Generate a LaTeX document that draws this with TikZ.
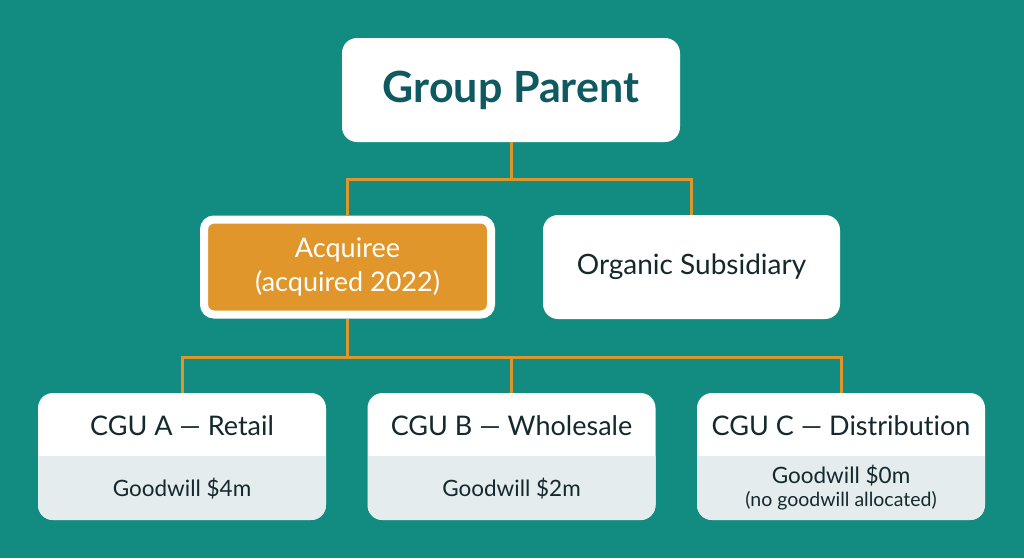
\documentclass[tikz,border=0pt]{standalone}
\usepackage{fontspec}
\setmainfont[Ligatures=NoCommon]{Lato}
\definecolor{bgteal}{HTML}{128C81}
\definecolor{linegold}{HTML}{DC962B}
\definecolor{acqorange}{HTML}{E0962A}
\definecolor{titleteal}{HTML}{0E5A60}
\definecolor{darktext}{HTML}{14292D}
\definecolor{lightgrey}{HTML}{E4ECED}
\tikzset{
  conn/.style={draw=linegold, line width=3pt},
  whitebox/.style={draw=none, fill=white, rounded corners=15pt, align=center, text=darktext, inner sep=0pt},
  acqbox/.style={draw=white, line width=8pt, fill=acqorange, rounded corners=10pt, align=center, text=white, inner sep=0pt},
  cgubox/.style={draw=none, fill=white, rounded corners=15pt, inner sep=0pt, minimum width=288pt, minimum height=127pt,
    path picture={\fill[lightgrey, sharp corners] (path picture bounding box.south west) rectangle ([yshift=64pt]path picture bounding box.south east);}},
  cgutitle/.style={text=darktext, font=\fontsize{27}{32}\selectfont, inner sep=0pt},
  gwtext/.style={text=darktext, font=\fontsize{22.5}{26}\selectfont, inner sep=0pt, align=center},
}
\begin{document}
\begin{tikzpicture}[x=1pt,y=-1pt]
\fill[bgteal] (0,0) rectangle (1024,558);
\useasboundingbox (0,0) rectangle (1024,558);
% top
\node[whitebox, minimum width=338pt, minimum height=104pt, font=\fontsize{43}{50}\selectfont\bfseries, text=titleteal] (parent) at (511,90) {Group Parent};
% level 2
\node[acqbox, minimum width=287pt, minimum height=95pt, font=\fontsize{27}{34}\selectfont] (acq) at (347.5,267) {Acquiree\\(acquired 2022)};
\node[whitebox, minimum width=297pt, minimum height=104pt, font=\fontsize{28}{32}\selectfont] (org) at (691.5,267) {Organic Subsidiary};
% level 3
\node[cgubox] (cguA) at (182,456.5) {};
\node[cgubox] (cguB) at (511.5,456.5) {};
\node[cgubox] (cguC) at (841,456.5) {};
\node[cgutitle] (tA) at (182,426) {CGU A — Retail};
\node[cgutitle] (tB) at (511.5,426) {CGU B — Wholesale};
\node[cgutitle] (tC) at (841,426) {CGU C — Distribution};
\node[gwtext] (gA) at (182,489) {Goodwill \$4m};
\node[gwtext] (gB) at (511.5,489) {Goodwill \$2m};
\node[gwtext] (gC) at (841,476) {Goodwill \$0m};
\node[gwtext, font=\fontsize{19.5}{22}\selectfont] (nC) at (841,501) {(no goodwill allocated)};
% connectors
\coordinate (j1) at (511,179);
\coordinate (j2) at (347.5,357);
\draw[conn] (parent.south) -- (j1);
\draw[conn] (j1) -| (acq.north);
\draw[conn] (j1) -| (org.north);
\draw[conn] (acq.south) -- (j2);
\draw[conn] (j2) -| (cguA.north);
\draw[conn] (j2) -| (cguB.north);
\draw[conn] (j2) -| (cguC.north);
\end{tikzpicture}
\end{document}
